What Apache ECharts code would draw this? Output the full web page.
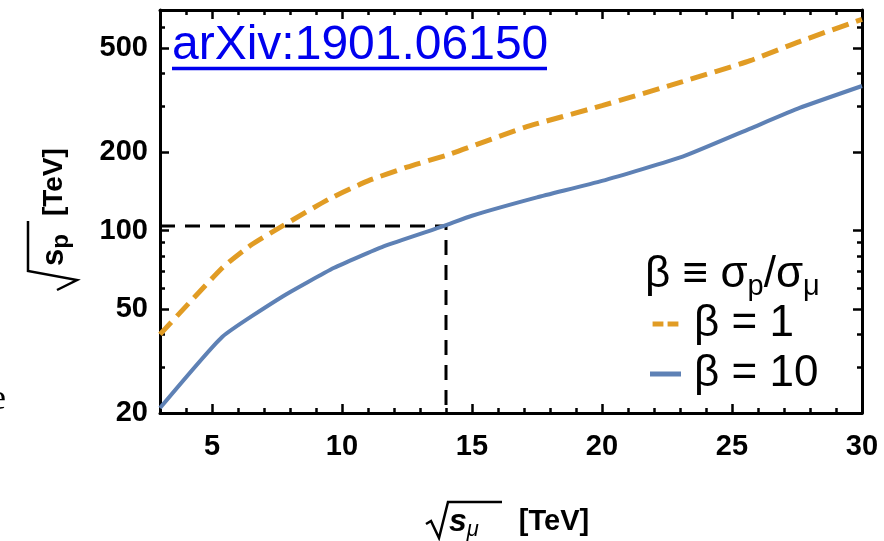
<!DOCTYPE html>
<html>
<head>
<meta charset="utf-8">
<script src="https://cdn.jsdelivr.net/npm/echarts@6/dist/echarts.min.js"></script>
<style>
  html, body { margin: 0; padding: 0; background: #fff; }
  #chart { width: 884px; height: 541px; }
</style>
</head>
<body>
<div id="chart"></div>
<script>
// curves: [sqrt(s_mu) TeV, sqrt(s_p) TeV]
const beta1 = [[3, 40], [5.4, 72], [6.5, 88], [7.7, 104], [9.5, 132], [11, 155], [12.5, 175],
  [14.2, 197], [17, 248], [20, 301], [23.1, 372], [25.7, 448], [27.6, 530], [30, 645]];
const beta10 = [[3, 20.9], [5.4, 39.2], [7.7, 55.8], [9.7, 72], [11.6, 87], [13.9, 104],
  [15, 114], [17.5, 134], [20, 155], [23.1, 192], [25.7, 246], [27.6, 295], [30, 358]];
const guide = [[3, 104], [14, 104], [14, 20]];

const xMajor = [5, 10, 15, 20, 25, 30];
const xMinor = [4, 6, 7, 8, 9, 11, 12, 13, 14, 16, 17, 18, 19, 21, 22, 23, 24, 26, 27, 28, 29];
const yMajor = [20, 50, 100, 200, 500];
const yMinor = [30, 40, 60, 70, 80, 90, 300, 400, 600];

const orange = "#e19c24";
const blue = "#5e81b5";
const lbl = { fontFamily: "Liberation Sans", fontWeight: "bold", fontSize: 29, color: "#000" };

const chart = echarts.init(document.getElementById("chart"));

const xAx = (pos, vals, len, show) => ({
  type: "value", position: pos, min: 3, max: 30,
  axisLine: { show: show, lineStyle: { color: "#000", width: 3 } },
  axisTick: { inside: true, length: len, customValues: vals, lineStyle: { color: "#000", width: 2.5 } },
  axisLabel: pos === "bottom" && show ? Object.assign({ customValues: vals, margin: 19 }, lbl) : { show: false },
  splitLine: { show: false },
});
const yAx = (pos, vals, len, show) => ({
  type: "log", position: pos, min: 20, max: 700,
  axisLine: { show: show, lineStyle: { color: "#000", width: 3 } },
  axisTick: { inside: true, length: len, customValues: vals, lineStyle: { color: "#000", width: 2.5 } },
  axisLabel: pos === "left" && show ? Object.assign({ customValues: vals, margin: 12, formatter: (v) => String(Math.round(v)) }, lbl) : { show: false },
  splitLine: { show: false },
  minorTick: { show: false },
});

const black = { stroke: "#000", lineWidth: 2.5, fill: null };

chart.setOption({
  animation: false,
  grid: { left: 160, right: 22, top: 10, bottom: 128 },
  xAxis: [xAx("bottom", xMajor, 9, true), xAx("bottom", xMinor, 5, false),
          xAx("top", xMajor, 9, true), xAx("top", xMinor, 5, false)],
  yAxis: [yAx("left", yMajor, 9, true), yAx("left", yMinor, 5, false),
          yAx("right", yMajor, 9, true), yAx("right", yMinor, 5, false)],
  legend: {
    orient: "vertical", left: 645, top: 297, itemWidth: 31, itemHeight: 5, itemGap: 6,
    data: [
      { name: "β = 1", icon: "path://M0,0h13v6h-13z M18,0h13v6h-13z" },
      { name: "β = 10", icon: "rect" },
    ],
    textStyle: { fontFamily: "Liberation Sans", fontSize: 44, color: "#000", lineHeight: 44, padding: [0, 0, 0, 8] },
  },
  series: [
    {
      name: "guide", type: "line", data: guide, symbol: "none", silent: true,
      lineStyle: { color: "#000", width: 3, type: [15, 10] },
    },
    {
      name: "β = 1", type: "line", data: beta1, symbol: "none", smooth: 0.2,
      lineStyle: { color: orange, width: 5, type: [17, 8] }, itemStyle: { color: orange },
    },
    {
      name: "β = 10", type: "line", data: beta10, symbol: "none", smooth: 0.15,
      lineStyle: { color: blue, width: 4 }, itemStyle: { color: blue },
    },
  ],
  graphic: [
    {
      type: "text", x: 172, y: 46,
      style: { text: "arXiv:1901.06150", fill: "#0000ee", fontFamily: "Liberation Sans", fontSize: 48,
               textAlign: "left", textVerticalAlign: "middle" },
    },
    { type: "line", shape: { x1: 172, y1: 68.5, x2: 547, y2: 68.5 }, style: { stroke: "#0000ee", lineWidth: 3.5 } },
    {
      type: "text", x: 645, y: 275,
      style: {
        text: "{a|β ≡ σ}{s|p}{a|/σ}{s|μ}", fill: "#000", textAlign: "left", textVerticalAlign: "middle",
        rich: {
          a: { fontFamily: "Liberation Sans", fontSize: 44, color: "#000" },
          s: { fontFamily: "Liberation Sans", fontSize: 29, color: "#000", padding: [24, 0, 0, 0] },
        },
      },
    },
    // x axis name
    { type: "polyline", shape: { points: [[426, 524], [431, 521], [439, 538], [448, 502], [502, 502]] }, style: black },
    {
      type: "text", x: 449, y: 522,
      style: {
        text: "{s|s}{m|μ}{t|[TeV]}", textAlign: "left", textVerticalAlign: "middle",
        rich: {
          s: { fontFamily: "Liberation Sans", fontStyle: "italic", fontWeight: "bold", fontSize: 32, color: "#000" },
          m: { fontFamily: "Liberation Sans", fontStyle: "italic", fontSize: 22, color: "#000", padding: [16, 0, 0, 0] },
          t: { fontFamily: "Liberation Sans", fontWeight: "bold", fontSize: 29, color: "#000", padding: [0, 0, 0, 40] },
        },
      },
    },
    // y axis name
    { type: "polyline", shape: { points: [[57, 290], [77, 280], [28, 271], [28, 221]] }, style: black },
    {
      type: "text", x: 54, y: 266, rotation: Math.PI / 2,
      style: {
        text: "{s|s}{p|p}{t|[TeV]}", textAlign: "left", textVerticalAlign: "middle",
        rich: {
          s: { fontFamily: "Liberation Sans", fontWeight: "bold", fontSize: 31, color: "#000" },
          p: { fontFamily: "Liberation Sans", fontWeight: "bold", fontSize: 24, color: "#000", padding: [14, 0, 0, 0] },
          t: { fontFamily: "Liberation Sans", fontWeight: "bold", fontSize: 28, color: "#000", padding: [0, 0, 0, 18] },
        },
      },
    },
    {
      type: "text", x: -10, y: 400,
      style: { text: "e", fill: "#000", fontFamily: "Liberation Serif", fontSize: 36, textVerticalAlign: "middle" },
    },
  ],
});
</script>
</body>
</html>
